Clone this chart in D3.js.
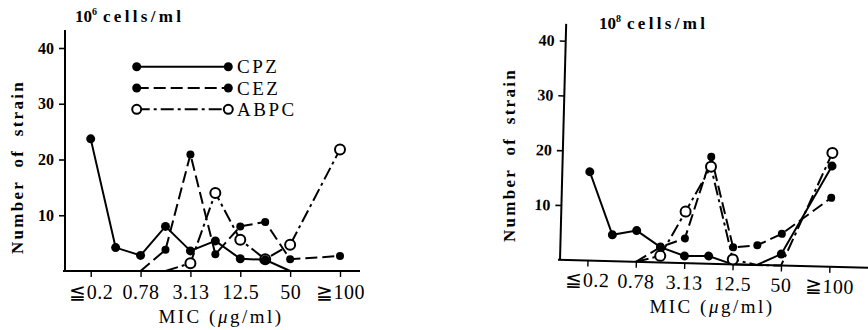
<!DOCTYPE html>
<html>
<head>
<meta charset="utf-8">
<script src="https://cdn.jsdelivr.net/npm/d3@7"></script>
<style>
body { margin: 0; background: #fff; }
svg { display: block; }
</style>
</head>
<body>
<script>
// MIC categories (two-fold dilutions), only every other one is labelled
const cats = ["≦0.2", "0.39", "0.78", "1.56", "3.13", "6.25", "12.5", "25", "50", "100", "≧100"];
const tickCats = ["≦0.2", "0.78", "3.13", "12.5", "50", "≧100"];
const yTicks = [10, 20, 30, 40];
const drugs = ["CPZ", "CEZ", "ABPC"];

// number of strains, 10^6 cells/ml (null = no point drawn)
const cpz6 = [23.7, 4.2, 2.8, 8.0, 3.6, 5.4, 2.2, 2.0, 0, null, null];
const cez6 = [null, null, 0, 3.8, 20.9, 3.0, 8.0, 8.8, 2.1, null, 2.7];
const abpc6 = [null, null, null, 0, 1.4, 14.0, 5.6, 2.1, 4.7, null, 21.8];

// number of strains, 10^8 cells/ml
const cpz8 = [16.2, 4.8, 5.7, 2.8, 1.3, 1.4, 0, 0, 2.1, null, 18.4];
const cez8 = [null, null, 0, 2.8, 4.5, 19.5, 3.1, 3.6, 5.8, null, 12.6];
const abpc8 = [null, null, 0, 1.2, 9.4, 17.7, 0.9, 0, 0, null, 20.8];

const SERIF = "Liberation Serif";
const W = 868, H = 330;
const svg = d3.select(document.body).append("svg")
  .attr("width", W).attr("height", H);

const styles = {
  CPZ: { dash: null, r: 4.5, open: false },
  CEZ: { dash: "12,5", r: 4, open: false },
  ABPC: { dash: "13,4,3,4", r: 5, open: true }
};

function panel(g, series, o) {
  const x = d3.scalePoint().domain(cats).range(o.xr);
  const y = d3.scaleLinear().domain([0, 40]).range([0, -o.h40]);

  // axes
  g.append("line").attr("x1", 0).attr("x2", 0).attr("y1", 0).attr("y2", -o.yLen)
    .attr("stroke", "#000").attr("stroke-width", 2);
  g.append("line").attr("x1", -2).attr("x2", o.xLen).attr("y1", 0).attr("y2", 0)
    .attr("stroke", "#000").attr("stroke-width", 2);

  const ya = g.append("g").call(d3.axisLeft(y).tickValues(yTicks).tickSize(6).tickPadding(5).tickFormat(d3.format("d")));
  ya.select(".domain").remove();
  ya.selectAll("line").attr("stroke-width", 1.6);
  ya.selectAll("text").style("font-family", SERIF).style("font-weight", "bold").style("font-size", "16px");

  const xa = g.append("g").call(d3.axisBottom(x).tickValues(tickCats).tickSize(6).tickPadding(o.pad));
  xa.select(".domain").remove();
  xa.selectAll("line").attr("stroke-width", 1.4);
  xa.selectAll("text").style("font-family", SERIF).style("font-size", "20px")
    .style("letter-spacing", "0.5px");

  const line = d3.line().x(d => x(d.c)).y(d => y(d.v));
  const pts = drugs.map((k, i) => ({
    k, p: series[i].map((v, j) => ({ c: cats[j], v })).filter(d => d.v !== null)
  }));

  pts.forEach(s => {
    g.append("path").datum(s.p).attr("d", line)
      .attr("fill", "none").attr("stroke", "#000").attr("stroke-width", 2)
      .attr("stroke-dasharray", styles[s.k].dash);
  });

  // open circles first, filled dots on top
  [pts[2], pts[0], pts[1]].forEach(s => {
    const st = styles[s.k];
    g.selectAll(null).data(s.p.filter(d => d.v > 0)).join("circle")
      .attr("cx", d => x(d.c)).attr("cy", d => y(d.v)).attr("r", st.r)
      .attr("fill", st.open ? "#fff" : "#000")
      .attr("stroke", "#000").attr("stroke-width", st.open ? 2 : 0);
  });
}

// left panel: 10^6 cells/ml
panel(svg.append("g").attr("transform", "translate(65,271)"),
  [cpz6, cez6, abpc6],
  { xr: [25.7, 275], h40: 223, yLen: 241, xLen: 295, pad: 8 });

// right panel: 10^8 cells/ml (scan is slightly tilted)
panel(svg.append("g").attr("transform", "translate(560,259.8) rotate(1.5)"),
  [cpz8, cez8, abpc8],
  { xr: [27.5, 269.5], h40: 219.2, yLen: 236, xLen: 312, pad: 6 });

// legend
const leg = svg.append("g");
const legY = d3.scalePoint().domain(drugs).range([66.7, 109.3]);
drugs.forEach(k => {
  const st = styles[k], yy = legY(k);
  leg.append("line").attr("x1", 136.7).attr("x2", 228.3).attr("y1", yy).attr("y2", yy)
    .attr("stroke", "#000").attr("stroke-width", 2).attr("stroke-dasharray", st.dash);
  [136.7, 228.3].forEach(cx => leg.append("circle").attr("cx", cx).attr("cy", yy)
    .attr("r", 4.5).attr("fill", st.open ? "#fff" : "#000")
    .attr("stroke", "#000").attr("stroke-width", st.open ? 2 : 0));
  leg.append("text").attr("x", 237).attr("y", yy + 6.5)
    .style("font-family", SERIF).style("font-size", "19px")
    .style("letter-spacing", "2.5px").text(k);
});

// titles
function cellTitle(x, y, exp) {
  const t = svg.append("text").attr("x", x).attr("y", y)
    .style("font-family", SERIF).style("font-size", "17px").style("font-weight", "bold");
  t.append("tspan").text("10");
  t.append("tspan").attr("dy", -7).style("font-size", "10px").text(exp);
  t.append("tspan").attr("dy", 7).attr("dx", 6).style("letter-spacing", "3.3px").text("cells/ml");
}
cellTitle(75, 22, "6");
cellTitle(599, 29, "8");

function yTitle(cx, cy) {
  svg.append("text").attr("transform", `translate(${cx},${cy}) rotate(-90)`)
    .attr("text-anchor", "middle")
    .style("font-family", SERIF).style("font-size", "17px").style("font-weight", "bold")
    .style("letter-spacing", "2.3px").style("word-spacing", "6px").text("Number of strain");
}
yTitle(23, 167);
yTitle(515, 155);

function xTitle(cx, by) {
  const t = svg.append("text").attr("x", cx).attr("y", by).attr("text-anchor", "middle")
    .style("font-family", SERIF).style("font-size", "19px").style("letter-spacing", "2.5px");
  t.append("tspan").text("MIC (");
  t.append("tspan").style("font-style", "italic").text("μ");
  t.append("tspan").text("g/ml)");
}
xTitle(221, 323);
xTitle(712, 313);
</script>
</body>
</html>
